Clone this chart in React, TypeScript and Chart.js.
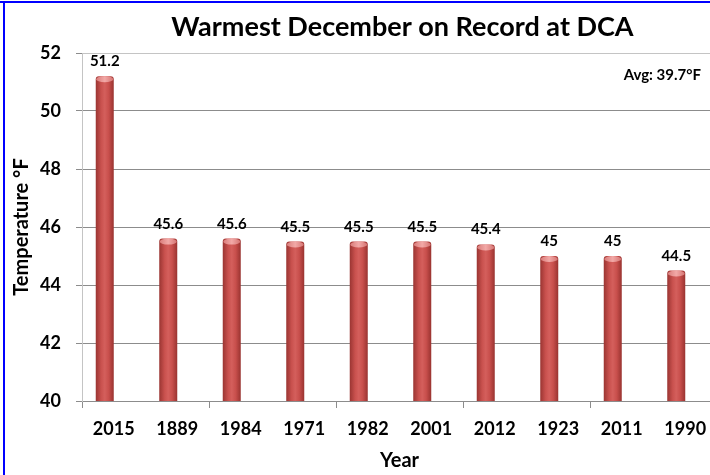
import React, { useEffect, useRef } from "react";
import { Chart, registerables } from "chart.js";

Chart.register(...registerables);

// ---- data ----
const years: string[] = ["2015", "1889", "1984", "1971", "1982", "2001", "2012", "1923", "2011", "1990"];
const temps: number[] = [51.2, 45.6, 45.6, 45.5, 45.5, 45.5, 45.4, 45, 45, 44.5];
const spacer: (number | null)[] = [null, null, null, null, null, null, null, null, null, null];
const yMin = 40;
const yMax = 52;
const yStep = 2;
const chartTitle = "Warmest December on Record at DCA";
const xTitle = "Year";
const yTitle = "Temperature °F";
const avgNote = "Avg: 39.7°F";

const FONT = "Lato, 'Open Sans', 'DejaVu Sans', sans-serif";
const W = 720;
const H = 475;

export default function App() {
  const ref = useRef<HTMLCanvasElement>(null);

  useEffect(() => {
    document.body.style.margin = "0";
    const canvas = ref.current;
    if (!canvas) return;

    const framePlugin = {
      id: "frame",
      beforeDraw(chart: any) {
        const ctx = chart.ctx;
        ctx.save();
        ctx.fillStyle = "#ffffff";
        ctx.fillRect(0, 0, chart.width, chart.height);
        ctx.fillStyle = "#0000ff";
        ctx.fillRect(0, 1, chart.width, 2);
        ctx.fillRect(3, 1, 2, chart.height);
        ctx.restore();
      },
      afterDraw(chart: any) {
        const ctx = chart.ctx;
        const area = chart.chartArea;
        ctx.save();
        ctx.fillStyle = "#000000";
        ctx.font = `bold 27px ${FONT}`;
        ctx.textAlign = "center";
        ctx.textBaseline = "middle";
        ctx.fillText(chartTitle, (area.left + area.right) / 2 + 3, 27);
        ctx.font = `bold 15px ${FONT}`;
        ctx.textAlign = "right";
        ctx.fillText(avgNote, area.right - 16, area.top + 22);
        ctx.restore();
      },
    };

    const barLook = {
      id: "barLook",
      beforeDatasetsDraw(chart: any) {
        const ctx = chart.ctx;
        const meta = chart.getDatasetMeta(0);
        meta.data.forEach((el: any) => {
          const x = el.x;
          const w = el.width;
          const g = ctx.createLinearGradient(x - w / 2, 0, x + w / 2, 0);
          g.addColorStop(0, "#9a3532");
          g.addColorStop(0.3, "#c9514e");
          g.addColorStop(0.5, "#d45f5c");
          g.addColorStop(0.72, "#c84f4c");
          g.addColorStop(1, "#993330");
          el.options = { ...el.options, backgroundColor: g };
        });
      },
      afterDatasetsDraw(chart: any) {
        const ctx = chart.ctx;
        const meta = chart.getDatasetMeta(0);
        ctx.save();
        meta.data.forEach((el: any, i: number) => {
          const x = el.x;
          const w = el.width;
          const top = el.y;
          const cg = ctx.createLinearGradient(x - w / 2, 0, x + w / 2, 0);
          cg.addColorStop(0, "#d87a78");
          cg.addColorStop(0.5, "#f2a9a7");
          cg.addColorStop(1, "#d47270");
          ctx.fillStyle = cg;
          ctx.beginPath();
          ctx.ellipse(x, top + 3, w / 2 - 0.5, 3, 0, 0, Math.PI * 2);
          ctx.fill();
          ctx.fillStyle = "#000000";
          ctx.font = `bold 15px ${FONT}`;
          ctx.textAlign = "center";
          ctx.textBaseline = "alphabetic";
          ctx.fillText(String(temps[i]), x, top - 10);
        });
        ctx.restore();
      },
    };

    const chart = new Chart(canvas, {
      type: "bar",
      data: {
        labels: years,
        datasets: [
          {
            label: "Temperature",
            data: temps,
            backgroundColor: "#c9514e",
            borderWidth: 0,
            borderRadius: { topLeft: 3, topRight: 3, bottomLeft: 0, bottomRight: 0 },
            borderSkipped: false,
            categoryPercentage: 0.567,
            barPercentage: 1.0,
          },
          {
            label: "",
            data: spacer,
            backgroundColor: "rgba(0,0,0,0)",
            categoryPercentage: 0.567,
            barPercentage: 1.0,
          },
        ],
      },
      options: {
        responsive: false,
        animation: false,
        devicePixelRatio: 1,
        layout: { padding: { left: 0, right: 3, top: 53, bottom: 0 } },
        plugins: {
          legend: { display: false },
          tooltip: { enabled: false },
          title: { display: false },
        },
        scales: {
          x: {
            type: "category",
            offset: true,
            grid: {
              offset: true,
              drawOnChartArea: false,
              drawTicks: true,
              tickLength: 7,
              tickColor: (c: any) =>
                typeof c.index === "number" && c.index % 2 === 0 ? "#8c8c8c" : "rgba(0,0,0,0)",
            },
            border: { color: "#8c8c8c" },
            ticks: {
              color: "#000000",
              font: { family: FONT, size: 18, weight: "bold" },
              padding: 10,
              autoSkip: false,
              maxRotation: 0,
            },
            title: {
              display: true,
              text: xTitle,
              color: "#000000",
              font: { family: FONT, size: 20, weight: "bold" },
              padding: { top: 0, bottom: 2 },
            },
            afterFit(scale: any) {
              scale.height = 74;
            },
          },
          y: {
            min: yMin,
            max: yMax,
            ticks: {
              stepSize: yStep,
              color: "#000000",
              font: { family: FONT, size: 18, weight: "bold" },
              padding: 15,
            },
            grid: {
              color: (c: any) => (c.tick && c.tick.value === yMax ? "#c4c4c4" : "#8c8c8c"),
              tickColor: "#8c8c8c",
              tickLength: 6,
            },
            border: { color: "#c4c4c4" },
            title: {
              display: true,
              text: yTitle,
              color: "#000000",
              font: { family: FONT, size: 20, weight: "bold" },
              padding: { top: 10, bottom: 0 },
            },
            afterFit(scale: any) {
              scale.width = 82;
            },
          },
        },
      },
      plugins: [framePlugin, barLook],
    });

    return () => {
      chart.destroy();
    };
  }, []);

  return (
    <div style={{ position: "fixed", left: 0, top: 0, width: 710, height: 475, overflow: "hidden", background: "#fff" }}>
      <canvas ref={ref} width={W} height={H} style={{ display: "block", width: W, height: H }} />
    </div>
  );
}
